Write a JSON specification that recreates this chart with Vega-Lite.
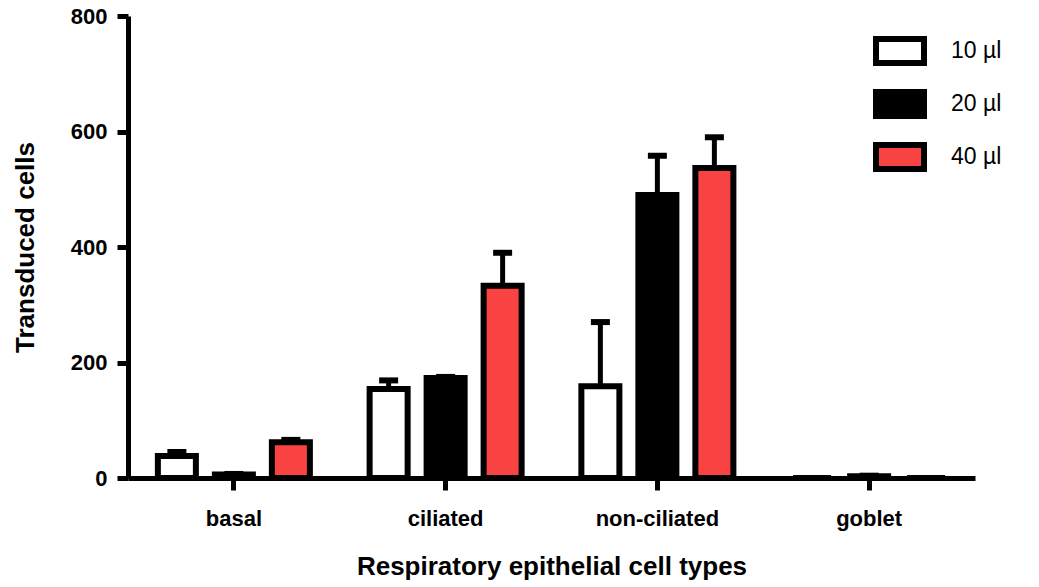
{
  "$schema": "https://vega.github.io/schema/vega-lite/v6.json",
  "width": 847,
  "height": 462,
  "autosize": {"type": "none"},
  "padding": {"left": 128, "top": 16, "right": 64, "bottom": 109},
  "background": "white",
  "config": {
    "view": {"stroke": null},
    "font": "Liberation Sans",
    "axis": {
      "domainColor": "black",
      "domainWidth": 5,
      "tickColor": "black",
      "tickWidth": 5,
      "grid": false,
      "labelFont": "Liberation Sans",
      "labelFontWeight": "bold",
      "labelColor": "black",
      "titleFont": "Liberation Sans",
      "titleFontWeight": "bold",
      "titleColor": "black"
    }
  },
  "data": {
    "values": [
      {"cell": "basal", "volume": "10 µl", "value": 38, "upper": 45},
      {"cell": "basal", "volume": "20 µl", "value": 6, "upper": 7},
      {"cell": "basal", "volume": "40 µl", "value": 62, "upper": 66},
      {"cell": "ciliated", "volume": "10 µl", "value": 154, "upper": 169},
      {"cell": "ciliated", "volume": "20 µl", "value": 173, "upper": 175},
      {"cell": "ciliated", "volume": "40 µl", "value": 333, "upper": 390},
      {"cell": "non-ciliated", "volume": "10 µl", "value": 159, "upper": 270},
      {"cell": "non-ciliated", "volume": "20 µl", "value": 490, "upper": 558},
      {"cell": "non-ciliated", "volume": "40 µl", "value": 537, "upper": 590},
      {"cell": "goblet", "volume": "10 µl", "value": 0, "upper": 0},
      {"cell": "goblet", "volume": "20 µl", "value": 3, "upper": 4},
      {"cell": "goblet", "volume": "40 µl", "value": 0, "upper": 0}
    ]
  },
  "encoding": {
    "x": {
      "field": "cell",
      "type": "nominal",
      "sort": ["basal", "ciliated", "non-ciliated", "goblet"],
      "scale": {"paddingInner": 0, "paddingOuter": 0},
      "axis": {
        "title": "Respiratory epithelial cell types",
        "labelAngle": 0,
        "labelFontSize": 22,
        "labelPadding": 18,
        "tickSize": 12,
        "titleFontSize": 26,
        "titlePadding": 24
      }
    },
    "xOffset": {
      "field": "volume",
      "type": "nominal",
      "sort": ["10 µl", "20 µl", "40 µl"],
      "scale": {"paddingInner": 0.333, "paddingOuter": 0.524}
    }
  },
  "layer": [
    {
      "mark": {"type": "bar", "stroke": "black", "strokeWidth": 6},
      "encoding": {
        "y": {
          "field": "value",
          "type": "quantitative",
          "scale": {"domain": [0, 800], "nice": false},
          "axis": {
            "title": "Transduced cells",
            "values": [0, 200, 400, 600, 800],
            "labelFontSize": 22,
            "labelPadding": 10,
            "tickSize": 11,
            "titleFontSize": 26,
            "titlePadding": 32
          }
        },
        "fill": {
          "field": "volume",
          "type": "nominal",
          "sort": ["10 µl", "20 µl", "40 µl"],
          "scale": {"range": ["white", "black", "#f94242"]},
          "legend": {
            "title": null,
            "orient": "none",
            "legendX": 745,
            "legendY": 8,
            "padding": 0,
            "symbolType": "M-1,-0.5H1V0.5H-1Z",
            "symbolSize": 2304,
            "symbolStrokeWidth": 6,
            "symbolStrokeColor": "black",
            "symbolOpacity": 1,
            "labelFont": "Liberation Sans",
            "labelFontSize": 23,
            "labelColor": "black",
            "labelOffset": 24,
            "rowPadding": 2
          }
        }
      }
    },
    {
      "mark": {"type": "rule", "strokeWidth": 5, "color": "black"},
      "encoding": {
        "y": {"field": "value", "type": "quantitative"},
        "y2": {"field": "upper"}
      }
    },
    {
      "mark": {"type": "tick", "thickness": 6, "size": 19, "color": "black", "opacity": 1},
      "encoding": {
        "y": {"field": "upper", "type": "quantitative"}
      }
    }
  ]
}
